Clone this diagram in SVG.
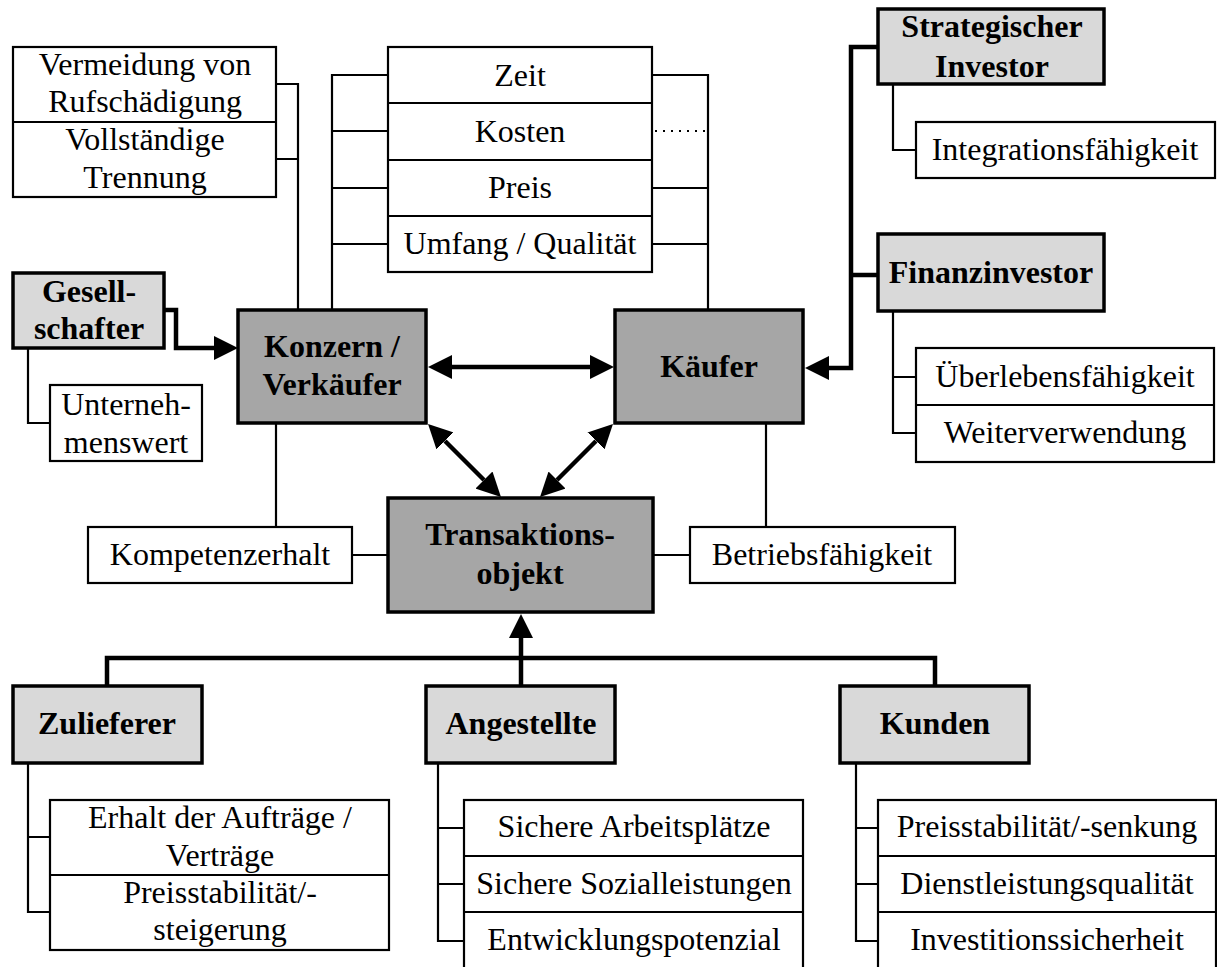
<svg xmlns="http://www.w3.org/2000/svg" width="1217" height="967" viewBox="0 0 1217 967">
  <style>
    text { font-family: "Liberation Serif", "Times New Roman", serif; font-size: 32px; text-anchor: middle; fill: #000; }
    .b { font-weight: bold; }
    .box { fill: #fff; stroke: #000; stroke-width: 2.2; }
    .main { fill: #a6a6a6; stroke: #000; stroke-width: 3.5; }
    .grp { fill: #d9d9d9; stroke: #000; stroke-width: 3.5; }
    .thin { fill: none; stroke: #000; stroke-width: 2.2; }
    .thick { fill: none; stroke: #000; stroke-width: 4.5; }
    .dot { fill: none; stroke: #000; stroke-width: 2; stroke-dasharray: 2 6; }
  </style>
  <defs>
    <marker id="ah" viewBox="0 0 24 24" markerWidth="24" markerHeight="24" refX="0" refY="12" orient="auto-start-reverse" markerUnits="userSpaceOnUse">
      <path d="M0,0 L24,12 L0,24 z" fill="#000"/>
    </marker>
  </defs>
  <rect width="1217" height="967" fill="#fff"/>

  <!-- connectors -->
  <g id="connectors">
    <!-- goals attached to Konzern / Verkäufer -->
    <path class="thin" d="M276,84 H298 V310 M276,159 H298"/>
    <path class="thin" d="M388,75 H332 V310 M388,131 H332 M388,188 H332 M388,244 H332"/>
    <!-- goals attached to Käufer -->
    <path class="thin" d="M652,75 H708 V310 M652,188 H708 M652,244 H708"/>
    <path class="dot" d="M655,131 H708"/>
    <path class="thin" d="M276,423 V527"/>
    <path class="thin" d="M352,555 H388"/>
    <path class="thin" d="M766,423 V527"/>
    <path class="thin" d="M653,555 H690"/>
    <!-- Gesellschafter -->
    <path class="thin" d="M28,348 V423 H50"/>
    <path class="thick" d="M164,310 H176 V348 H214" marker-end="url(#ah)"/>
    <!-- investors -->
    <path class="thick" d="M878,47 H851 V368 H829" marker-end="url(#ah)"/>
    <path class="thick" d="M851,275 H878"/>
    <path class="thin" d="M893,84 V150 H916"/>
    <path class="thin" d="M893,311 V433 H916 M893,377 H916"/>
    <!-- relations between the three parties -->
    <path class="thick" d="M452,367 H590" marker-start="url(#ah)" marker-end="url(#ah)"/>
    <path class="thick" d="M445,441 L484,480" marker-start="url(#ah)" marker-end="url(#ah)"/>
    <path class="thick" d="M596,441 L557,480" marker-start="url(#ah)" marker-end="url(#ah)"/>
    <!-- stakeholders below -->
    <path class="thick" d="M107,686 V658 H935 V686"/>
    <path class="thick" d="M521,686 V638" marker-end="url(#ah)"/>
    <path class="thin" d="M28,763 V912 H50 M28,837 H50"/>
    <path class="thin" d="M438,763 V941 H464 M438,828 H464 M438,884 H464"/>
    <path class="thin" d="M856,763 V941 H878 M856,828 H878 M856,884 H878"/>
  </g>

  <g id="verkaeufer-ziele">
    <rect class="box" x="13" y="47" width="263" height="150"/>
    <line class="thin" x1="13" y1="122" x2="276" y2="122"/>
    <text x="145" y="75">Vermeidung von</text>
    <text x="145" y="112">Rufschädigung</text>
    <text x="145" y="150">Vollständige</text>
    <text x="145" y="188">Trennung</text>
  </g>

  <g id="gemeinsame-ziele">
    <rect class="box" x="388" y="47" width="264" height="225"/>
    <line class="thin" x1="388" y1="103" x2="652" y2="103"/>
    <line class="thin" x1="388" y1="160" x2="652" y2="160"/>
    <line class="thin" x1="388" y1="216" x2="652" y2="216"/>
    <text x="520" y="86">Zeit</text>
    <text x="520" y="142">Kosten</text>
    <text x="520" y="198">Preis</text>
    <text x="520" y="254">Umfang / Qualität</text>
  </g>

  <g id="gesellschafter">
    <rect class="grp" x="13" y="273" width="151" height="75"/>
    <text class="b" x="89" y="302">Gesell-</text>
    <text class="b" x="89" y="339">schafter</text>
  </g>
  <g id="unternehmenswert">
    <rect class="box" x="50" y="385" width="152" height="76"/>
    <text x="126" y="415">Unterneh-</text>
    <text x="126" y="453">menswert</text>
  </g>

  <g id="konzern">
    <rect class="main" x="238" y="310" width="188" height="113"/>
    <text class="b" x="332" y="357">Konzern /</text>
    <text class="b" x="332" y="395">Verkäufer</text>
  </g>
  <g id="kaeufer">
    <rect class="main" x="615" y="310" width="188" height="113"/>
    <text class="b" x="709" y="377">Käufer</text>
  </g>
  <g id="transaktionsobjekt">
    <rect class="main" x="388" y="498" width="265" height="114"/>
    <text class="b" x="520" y="545">Transaktions-</text>
    <text class="b" x="520" y="584">objekt</text>
  </g>

  <g id="kompetenzerhalt">
    <rect class="box" x="88" y="527" width="264" height="56"/>
    <text x="220" y="565">Kompetenzerhalt</text>
  </g>
  <g id="betriebsfaehigkeit">
    <rect class="box" x="690" y="527" width="265" height="56"/>
    <text x="822" y="565">Betriebsfähigkeit</text>
  </g>

  <g id="strategischer-investor">
    <rect class="grp" x="878" y="9" width="226" height="75"/>
    <text class="b" x="992" y="37">Strategischer</text>
    <text class="b" x="992" y="77">Investor</text>
  </g>
  <g id="integrationsfaehigkeit">
    <rect class="box" x="916" y="122" width="299" height="56"/>
    <text x="1065" y="160">Integrationsfähigkeit</text>
  </g>
  <g id="finanzinvestor">
    <rect class="grp" x="878" y="234" width="226" height="77"/>
    <text class="b" x="991" y="283">Finanzinvestor</text>
  </g>
  <g id="finanzinvestor-ziele">
    <rect class="box" x="916" y="348" width="298" height="114"/>
    <line class="thin" x1="916" y1="405" x2="1214" y2="405"/>
    <text x="1065" y="387">Überlebensfähigkeit</text>
    <text x="1065" y="443">Weiterverwendung</text>
  </g>

  <g id="zulieferer">
    <rect class="grp" x="13" y="686" width="189" height="77"/>
    <text class="b" x="107" y="734">Zulieferer</text>
  </g>
  <g id="zulieferer-ziele">
    <rect class="box" x="50" y="800" width="339" height="150"/>
    <line class="thin" x1="50" y1="875" x2="389" y2="875"/>
    <text x="220" y="828">Erhalt der Aufträge /</text>
    <text x="220" y="866">Verträge</text>
    <text x="220" y="903">Preisstabilität/-</text>
    <text x="220" y="940">steigerung</text>
  </g>

  <g id="angestellte">
    <rect class="grp" x="426" y="686" width="189" height="77"/>
    <text class="b" x="521" y="734">Angestellte</text>
  </g>
  <g id="angestellte-ziele">
    <rect class="box" x="464" y="800" width="339" height="170"/>
    <line class="thin" x1="464" y1="856" x2="803" y2="856"/>
    <line class="thin" x1="464" y1="912" x2="803" y2="912"/>
    <text x="634" y="837">Sichere Arbeitsplätze</text>
    <text x="634" y="894">Sichere Sozialleistungen</text>
    <text x="634" y="950">Entwicklungspotenzial</text>
  </g>

  <g id="kunden">
    <rect class="grp" x="840" y="686" width="189" height="77"/>
    <text class="b" x="935" y="734">Kunden</text>
  </g>
  <g id="kunden-ziele">
    <rect class="box" x="878" y="800" width="338" height="170"/>
    <line class="thin" x1="878" y1="856" x2="1216" y2="856"/>
    <line class="thin" x1="878" y1="912" x2="1216" y2="912"/>
    <text x="1047" y="837">Preisstabilität/-senkung</text>
    <text x="1047" y="894">Dienstleistungsqualität</text>
    <text x="1047" y="950">Investitionssicherheit</text>
  </g>
</svg>
